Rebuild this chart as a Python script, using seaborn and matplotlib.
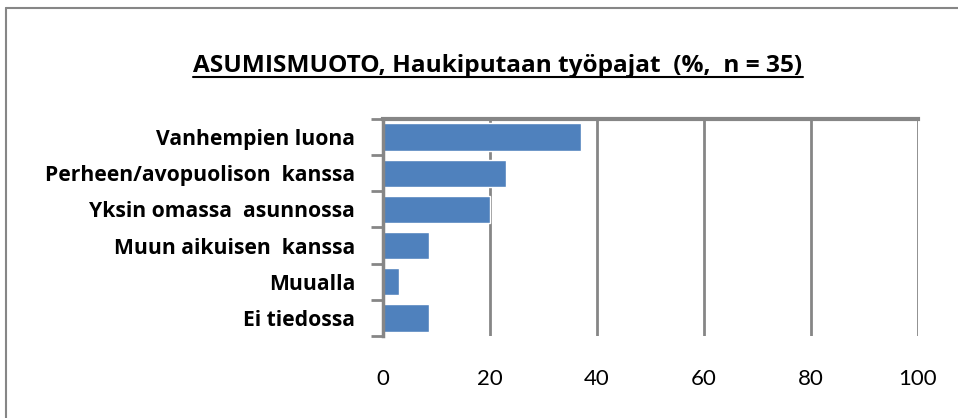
import matplotlib
matplotlib.use("Agg")
import matplotlib.pyplot as plt
from matplotlib.lines import Line2D
import seaborn as sns
import pandas as pd

categories = ["Vanhempien luona", "Perheen/avopuolison  kanssa", "Yksin omassa  asunnossa",
              "Muun aikuisen  kanssa", "Muualla", "Ei tiedossa"]
values = [37.1, 22.9, 20.0, 8.6, 2.9, 8.6]
xticks = [0, 20, 40, 60, 80, 100]
title = "ASUMISMUOTO, Haukiputaan työpajat  (%,  n = 35)"

sns.set_theme(style="white")
plt.rcParams["font.family"] = ["Open Sans", "DejaVu Sans"]

W, H = 958, 418
fig = plt.figure(figsize=(W / 100, H / 100), dpi=100)
ax = fig.add_axes([383 / W, 1 - 336 / H, (918 - 383) / W, (336 - 119) / H])

df = pd.DataFrame({"cat": categories, "val": values})
sns.barplot(data=df, y="cat", x="val", color="#4F81BD", saturation=1, width=0.76, ax=ax)

grey = "#868686"
ax.set_xlim(0, 100)
ax.set_ylim(5.5, -0.5)
ax.set_xticks(xticks)
ax.set_xticklabels([str(t) for t in xticks], fontsize=16, color="#000000", family=["Lato", "DejaVu Sans"])
ax.tick_params(axis="x", length=0, pad=24)
ax.xaxis.grid(True, color=grey, linewidth=2)
ax.set_axisbelow(True)
ax.set_xlabel("")
ax.set_ylabel("")

ax.set_yticks(range(len(categories)))
ax.set_yticklabels(categories, fontsize=15.2, fontweight="bold", color="#000000")
ax.tick_params(axis="y", which="major", length=0, pad=20)
ax.set_yticks([i - 0.5 for i in range(len(categories) + 1)], minor=True)
ax.tick_params(axis="y", which="minor", length=9, width=2, color=grey, left=True)

for s in ["bottom", "right"]:
    ax.spines[s].set_visible(False)
ax.spines["left"].set_color(grey)
ax.spines["left"].set_linewidth(2.5)
ax.spines["top"].set_color(grey)
ax.spines["top"].set_linewidth(3)

# outer chart border
fig.add_artist(Line2D([5.5 / W, 5.5 / W], [0, 1 - 7.5 / H], transform=fig.transFigure, color=grey, lw=1.5))
fig.add_artist(Line2D([5.5 / W, 1], [1 - 7.5 / H, 1 - 7.5 / H], transform=fig.transFigure, color=grey, lw=1.5))

# underlined title
t = fig.text(498 / W, 1 - 72 / H, title, ha="center", va="baseline", fontsize=17.6, fontweight="bold", color="#000000")
fig.canvas.draw()
bb = t.get_window_extent(renderer=fig.canvas.get_renderer())
uy = 1 - 77 / H
fig.add_artist(Line2D([bb.x0 / W, bb.x1 / W], [uy, uy], transform=fig.transFigure, color="#000000", lw=1.5))

fig.savefig("out.png", dpi=100)
